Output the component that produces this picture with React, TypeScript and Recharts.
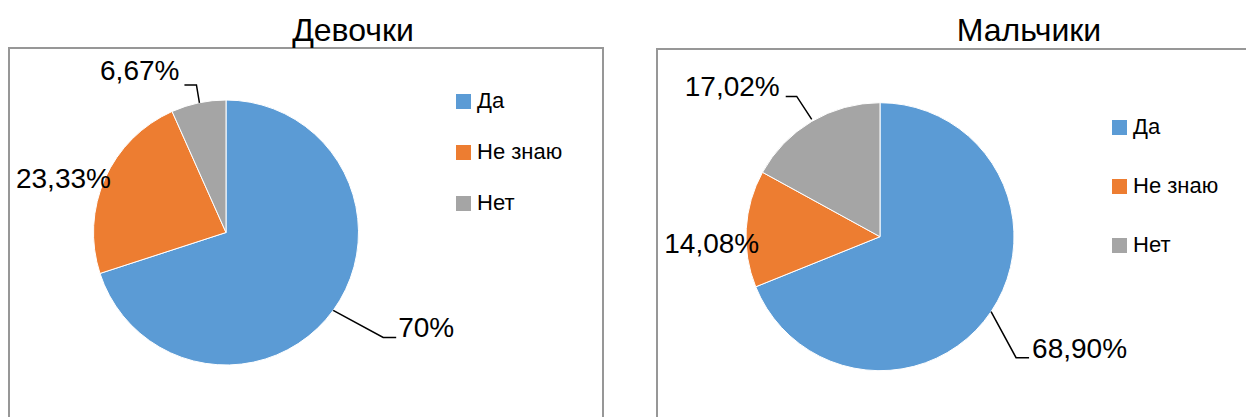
import React from "react";
import { PieChart, Pie, Cell, Legend } from "recharts";

const categories = ["Да", "Не знаю", "Нет"];
const girlsValues = [70, 23.33, 6.67];
const boysValues = [68.9, 14.08, 17.02];
const girlsLabels = ["70%", "23,33%", "6,67%"];
const boysLabels = ["68,90%", "14,08%", "17,02%"];
const colors = ["#5B9BD5", "#ED7D31", "#A5A5A5"];

const girlsData = categories.map((name, i) => ({ name, value: girlsValues[i], label: girlsLabels[i] }));
const boysData = categories.map((name, i) => ({ name, value: boysValues[i], label: boysLabels[i] }));

const RAD = Math.PI / 180;
const FONT = "'Liberation Sans', Arial, sans-serif";

type Pt = [number, number];
interface LabelLayout {
  line?: Pt[];
  text: Pt;
  anchor: "start" | "end";
}

const girlsLayout: LabelLayout[] = [
  { line: [[0, 0], [50, 27], [63, 27]], text: [65, 27], anchor: "start" },
  { text: [6, 9], anchor: "end" },
  { line: [[1, 0], [-2, -18], [-14, -18]], text: [-19, -23], anchor: "end" },
];
const boysLayout: LabelLayout[] = [
  { line: [[0, 0], [25, 46], [38, 46]], text: [41, 46], anchor: "start" },
  { text: [13, 24], anchor: "end" },
  { line: [[0, -2], [-15, -25], [-26, -25]], text: [-32, -25], anchor: "end" },
];

function makeLabel(layout: LabelLayout[]) {
  return (props: any) => {
    const { cx, cy, midAngle, outerRadius, index, payload } = props;
    const ex = cx + outerRadius * Math.cos(-midAngle * RAD);
    const ey = cy + outerRadius * Math.sin(-midAngle * RAD);
    const L = layout[index];
    const text = payload?.label ?? props.label;
    return (
      <g key={`lbl-${index}`}>
        {L.line && (
          <polyline
            points={L.line.map(([dx, dy]) => `${ex + dx},${ey + dy}`).join(" ")}
            fill="none"
            stroke="#000"
            strokeWidth={1.5}
          />
        )}
        <text
          x={ex + L.text[0]}
          y={ey + L.text[1]}
          textAnchor={L.anchor}
          fontFamily={FONT}
          fontSize={28}
          fill="#000"
        >
          {text}
        </text>
      </g>
    );
  };
}

function makeLegend(rowGap: number) {
  return (props: any) => {
    const payload = props.payload || [];
    return (
      <div style={{ fontFamily: FONT, fontSize: 22, color: "#000", lineHeight: "26px" }}>
        {payload.map((entry: any, i: number) => (
          <div
            key={i}
            style={{ display: "flex", alignItems: "center", height: 26, marginBottom: rowGap - 26 }}
          >
            <span
              style={{
                display: "inline-block",
                width: 15,
                height: 15,
                background: entry.color,
                marginRight: 6,
                flexShrink: 0,
              }}
            />
            <span style={{ whiteSpace: "nowrap" }}>{entry.value}</span>
          </div>
        ))}
      </div>
    );
  };
}

const titleStyle: React.CSSProperties = {
  position: "absolute",
  width: 240,
  top: 12,
  textAlign: "center",
  fontFamily: FONT,
  fontSize: 32,
  color: "#000",
  whiteSpace: "nowrap",
};

export default function App() {
  return (
    <div
      style={{
        position: "absolute",
        left: 0,
        top: 0,
        width: 1246,
        height: 417,
        background: "#fff",
        overflow: "hidden",
      }}
    >
      <div
        style={{
          position: "absolute",
          left: 8,
          top: 47,
          width: 592,
          height: 400,
          border: "2px solid #979797",
        }}
      />
      <div style={{ ...titleStyle, left: 353 - 120 }}>Девочки</div>
      <div
        style={{
          position: "absolute",
          left: 656,
          top: 48,
          width: 620,
          height: 400,
          border: "2px solid #979797",
        }}
      />
      <div style={{ ...titleStyle, left: 1029 - 120 }}>Мальчики</div>

      <div style={{ position: "absolute", left: 0, top: 0 }}>
        <PieChart width={623} height={417} margin={{ top: 0, right: 0, bottom: 0, left: 0 }}>
          <Pie
            data={girlsData}
            dataKey="value"
            nameKey="name"
            cx={226}
            cy={232.5}
            outerRadius={132.5}
            startAngle={90}
            endAngle={-270}
            stroke="#fff"
            strokeWidth={1}
            isAnimationActive={false}
            labelLine={false}
            label={makeLabel(girlsLayout)}
          >
            {girlsData.map((d, i) => (
              <Cell key={d.name} fill={colors[i]} />
            ))}
          </Pie>
          <Legend
            layout="vertical"
            content={makeLegend(51)}
            wrapperStyle={{ left: 456, top: 88, width: 160 }}
          />
        </PieChart>
      </div>

      <div style={{ position: "absolute", left: 623, top: 0 }}>
        <PieChart width={623} height={417} margin={{ top: 0, right: 0, bottom: 0, left: 0 }}>
          <Pie
            data={boysData}
            dataKey="value"
            nameKey="name"
            cx={257}
            cy={236.7}
            outerRadius={134}
            startAngle={90}
            endAngle={-270}
            stroke="#fff"
            strokeWidth={1}
            isAnimationActive={false}
            labelLine={false}
            label={makeLabel(boysLayout)}
          >
            {boysData.map((d, i) => (
              <Cell key={d.name} fill={colors[i]} />
            ))}
          </Pie>
          <Legend
            layout="vertical"
            content={makeLegend(59)}
            wrapperStyle={{ left: 489, top: 114, width: 160 }}
          />
        </PieChart>
      </div>
    </div>
  );
}
